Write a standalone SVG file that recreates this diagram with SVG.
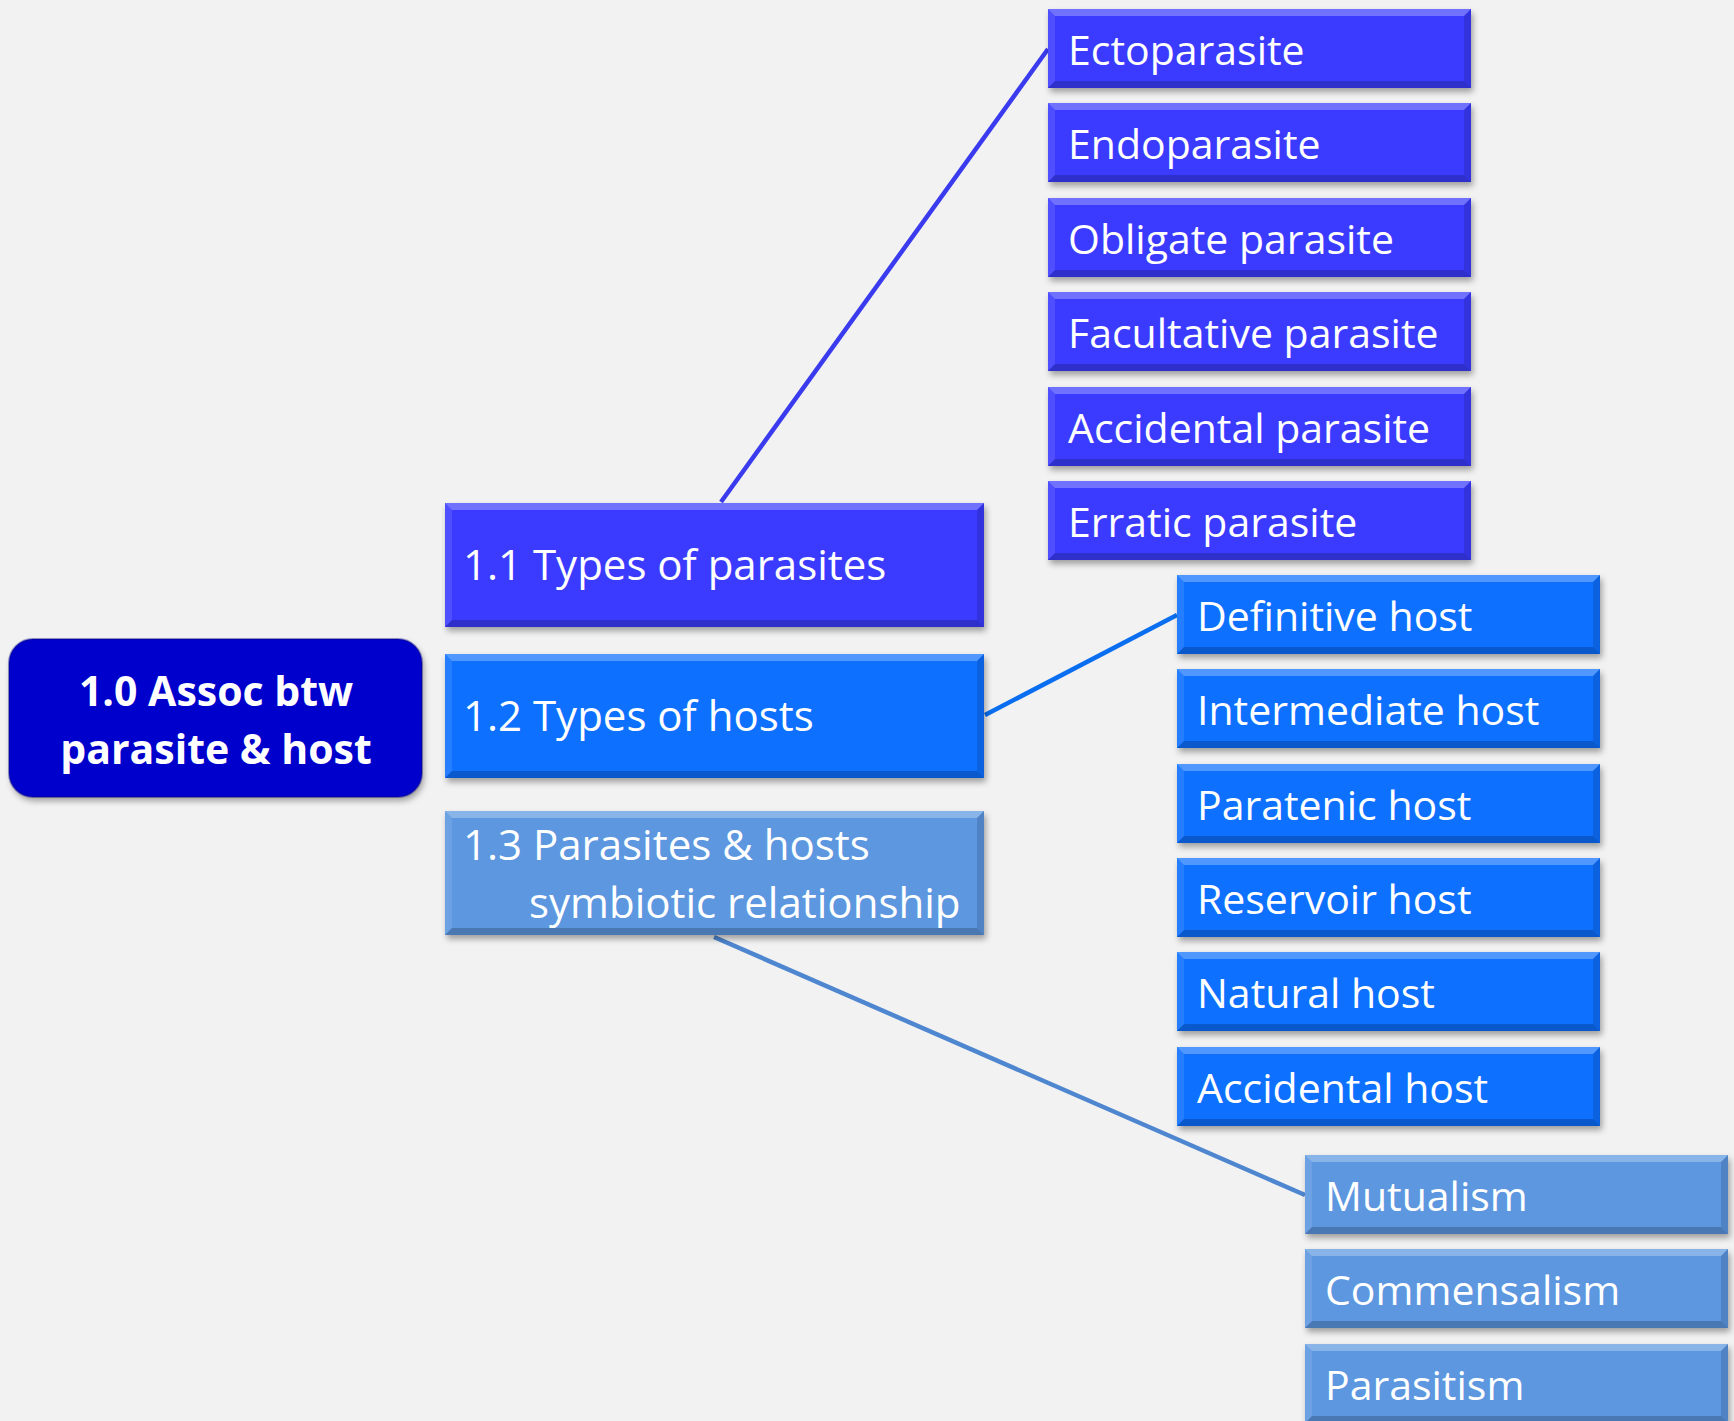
<svg xmlns="http://www.w3.org/2000/svg" xmlns:xlink="http://www.w3.org/1999/xlink" width="1734" height="1421" viewBox="0 0 1734 1421">
<style>
.t{font-family:"Open Sans","Liberation Sans",sans-serif;font-size:41px;fill:#ffffff}
.t1{font-family:"Open Sans","Liberation Sans",sans-serif;font-size:42px;fill:#ffffff}
.tr{font-family:"Open Sans","Liberation Sans",sans-serif;font-size:41px;font-weight:bold;fill:#ffffff}
.par{fill:#3A3AFF}
.hst{fill:#0A70FF}
.sym{fill:#5B97E0}
.root{fill:#0505CC}
.hl{fill:#ffffff;fill-opacity:0.28}
.hl2{fill:#ffffff;fill-opacity:0.1}
.dk{fill:#000000;fill-opacity:0.13}
.dk2{fill:#000000;fill-opacity:0.2}
.edge{fill:none;stroke-width:4.5}
</style>
<defs>
<filter id="sh" x="-10%" y="-10%" width="120%" height="130%">
<feDropShadow dx="2" dy="4" stdDeviation="3" flood-color="#000" flood-opacity="0.35"/>
</filter>
<g id="bev2">
<polygon class="hl" points="0,0 423,0 416,7 7,7"/>
<polygon class="hl2" points="0,0 7,7 7,72 0,79"/>
<polygon class="dk" points="423,0 423,79 416,72 416,7"/>
<polygon class="dk2" points="0,79 423,79 416,72 7,72"/>
</g>
<g id="bev1">
<polygon class="hl" points="0,0 539,0 532,7 7,7"/>
<polygon class="hl2" points="0,0 7,7 7,117 0,124"/>
<polygon class="dk" points="539,0 539,124 532,117 532,7"/>
<polygon class="dk2" points="0,124 539,124 532,117 7,117"/>
</g>
</defs>
<rect width="1734" height="1421" fill="#F2F2F2"/>

<g id="connectors">
<line class="edge" x1="721" y1="502" x2="1048" y2="49" stroke="#3A3AEE"/>
<line class="edge" x1="985" y1="715" x2="1177" y2="615" stroke="#0A6EF0"/>
<line class="edge" x1="714" y1="937" x2="1305" y2="1195" stroke="#4F86D0"/>
</g>

<g id="root">
<rect class="root" x="9" y="639" width="413" height="158" rx="24" filter="url(#sh)"/>
<rect x="9" y="639" width="413" height="158" rx="24" fill="none" stroke="#000080" stroke-opacity="0.4" stroke-width="2"/>
<text class="tr" x="216" y="706" text-anchor="middle">1.0 Assoc btw</text>
<text class="tr" x="216" y="764" text-anchor="middle">parasite &amp; host</text>
</g>

<g id="n1_1">
<rect class="par" x="445" y="503" width="539" height="124" filter="url(#sh)"/>
<use xlink:href="#bev1" x="445" y="503"/>
<text class="t1" x="463" y="580">1.1 Types of parasites</text>
</g>
<g id="n1_2">
<rect class="hst" x="445" y="654" width="539" height="124" filter="url(#sh)"/>
<use xlink:href="#bev1" x="445" y="654"/>
<text class="t1" x="463" y="731">1.2 Types of hosts</text>
</g>
<g id="n1_3">
<rect class="sym" x="445" y="811" width="539" height="124" filter="url(#sh)"/>
<use xlink:href="#bev1" x="445" y="811"/>
<text class="t1" x="463" y="860">1.3 Parasites &amp; hosts</text>
<text class="t1" x="529" y="918">symbiotic relationship</text>
</g>

<g id="ecto"><rect class="par" x="1048" y="9" width="423" height="79" filter="url(#sh)"/><use xlink:href="#bev2" x="1048" y="9"/><text class="t" x="1068" y="65">Ectoparasite</text></g>
<g id="endo"><rect class="par" x="1048" y="103" width="423" height="79" filter="url(#sh)"/><use xlink:href="#bev2" x="1048" y="103"/><text class="t" x="1068" y="159">Endoparasite</text></g>
<g id="obligate"><rect class="par" x="1048" y="198" width="423" height="79" filter="url(#sh)"/><use xlink:href="#bev2" x="1048" y="198"/><text class="t" x="1068" y="254">Obligate parasite</text></g>
<g id="facultative"><rect class="par" x="1048" y="292" width="423" height="79" filter="url(#sh)"/><use xlink:href="#bev2" x="1048" y="292"/><text class="t" x="1068" y="348">Facultative parasite</text></g>
<g id="accidental_p"><rect class="par" x="1048" y="387" width="423" height="79" filter="url(#sh)"/><use xlink:href="#bev2" x="1048" y="387"/><text class="t" x="1068" y="443">Accidental parasite</text></g>
<g id="erratic"><rect class="par" x="1048" y="481" width="423" height="79" filter="url(#sh)"/><use xlink:href="#bev2" x="1048" y="481"/><text class="t" x="1068" y="537">Erratic parasite</text></g>

<g id="definitive"><rect class="hst" x="1177" y="575" width="423" height="79" filter="url(#sh)"/><use xlink:href="#bev2" x="1177" y="575"/><text class="t" x="1197" y="631">Definitive host</text></g>
<g id="intermediate"><rect class="hst" x="1177" y="669" width="423" height="79" filter="url(#sh)"/><use xlink:href="#bev2" x="1177" y="669"/><text class="t" x="1197" y="725">Intermediate host</text></g>
<g id="paratenic"><rect class="hst" x="1177" y="764" width="423" height="79" filter="url(#sh)"/><use xlink:href="#bev2" x="1177" y="764"/><text class="t" x="1197" y="820">Paratenic host</text></g>
<g id="reservoir"><rect class="hst" x="1177" y="858" width="423" height="79" filter="url(#sh)"/><use xlink:href="#bev2" x="1177" y="858"/><text class="t" x="1197" y="914">Reservoir host</text></g>
<g id="natural"><rect class="hst" x="1177" y="952" width="423" height="79" filter="url(#sh)"/><use xlink:href="#bev2" x="1177" y="952"/><text class="t" x="1197" y="1008">Natural host</text></g>
<g id="accidental_h"><rect class="hst" x="1177" y="1047" width="423" height="79" filter="url(#sh)"/><use xlink:href="#bev2" x="1177" y="1047"/><text class="t" x="1197" y="1103">Accidental host</text></g>

<g id="mutualism"><rect class="sym" x="1305" y="1155" width="423" height="79" filter="url(#sh)"/><use xlink:href="#bev2" x="1305" y="1155"/><text class="t" x="1325" y="1211">Mutualism</text></g>
<g id="commensalism"><rect class="sym" x="1305" y="1249" width="423" height="79" filter="url(#sh)"/><use xlink:href="#bev2" x="1305" y="1249"/><text class="t" x="1325" y="1305">Commensalism</text></g>
<g id="parasitism"><rect class="sym" x="1305" y="1344" width="423" height="79" filter="url(#sh)"/><use xlink:href="#bev2" x="1305" y="1344"/><text class="t" x="1325" y="1400">Parasitism</text></g>
</svg>
